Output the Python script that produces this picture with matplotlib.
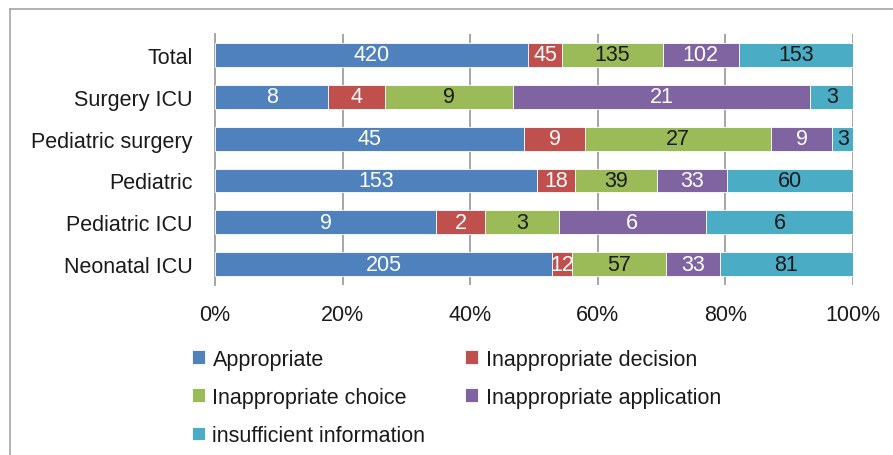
import matplotlib.pyplot as plt
import matplotlib.lines as mlines
import numpy as np

plt.rcParams['font.family'] = ['Liberation Sans', 'DejaVu Sans']

categories = ['Total', 'Surgery ICU', 'Pediatric surgery', 'Pediatric',
              'Pediatric ICU', 'Neonatal ICU']
series = ['Appropriate', 'Inappropriate decision', 'Inappropriate choice',
          'Inappropriate application', 'insufficient information']

appropriate = [420, 8, 45, 153, 9, 205]
inapp_decision = [45, 4, 9, 18, 2, 12]
inapp_choice = [135, 9, 27, 39, 3, 57]
inapp_application = [102, 21, 9, 33, 6, 33]
insufficient = [153, 3, 3, 60, 6, 81]

colors = ['#4F81BD', '#C0504D', '#9BBB59', '#8064A2', '#4BACC6']
label_colors = ['white', 'white', '#1a1a1a', 'white', '#1a1a1a']
text_color = '#1a1a1a'
fs = 15.5

data = np.array([appropriate, inapp_decision, inapp_choice,
                 inapp_application, insufficient], dtype=float)
totals = data.sum(axis=0)
pct = data / totals * 100

fig = plt.figure(figsize=(8.93, 4.56), dpi=100)
ax = fig.add_axes([0.2408, 0.3728, 0.7144, 0.5504])

y = np.arange(len(categories))
left = np.zeros(len(categories))
handles = []
for i, name in enumerate(series):
    bars = ax.barh(y, pct[i], left=left, height=0.57, color=colors[i],
                   edgecolor='white', linewidth=0.6, label=name, zorder=3)
    ax.bar_label(bars, labels=[str(int(v)) for v in data[i]],
                 label_type='center', color=label_colors[i], fontsize=fs)
    left += pct[i]
    handles.append(bars)

ax.set_xlim(0, 100)
ax.set_ylim(len(categories) - 0.5, -0.5)
ax.set_yticks(y)
ax.set_yticklabels(categories, fontsize=fs, color=text_color)
ax.set_xticks(np.arange(0, 101, 20))
ax.set_xticklabels(['%d%%' % t for t in range(0, 101, 20)],
                   fontsize=fs, color=text_color)
ax.tick_params(axis='both', length=0)
ax.tick_params(axis='x', pad=14)
ax.tick_params(axis='y', pad=16)
ax.grid(axis='x', color='#A6A6A6', linewidth=1.4, zorder=0)
for s in ['top', 'right', 'bottom']:
    ax.spines[s].set_visible(False)
ax.spines['left'].set_color('#A6A6A6')
ax.spines['left'].set_linewidth(1.4)

# legend, filled row by row
order = [0, 2, 4, 1, 3]
fig.legend([handles[k] for k in order], [series[k] for k in order],
           loc='upper left', bbox_to_anchor=(0.203, 0.257), ncol=2,
           frameon=False, fontsize=fs, handlelength=0.6, handleheight=0.6,
           handletextpad=0.35, columnspacing=1.85, labelspacing=0.8,
           labelcolor=text_color, borderpad=0)

# outer frame
fig.add_artist(mlines.Line2D([9.5 / 893, 9.5 / 893], [0, 1 - 10 / 456],
                             color='#A6A6A6', linewidth=1.2))
fig.add_artist(mlines.Line2D([9.5 / 893, 1], [1 - 10 / 456, 1 - 10 / 456],
                             color='#A6A6A6', linewidth=1.2))

fig.savefig('out.png', dpi=100)
